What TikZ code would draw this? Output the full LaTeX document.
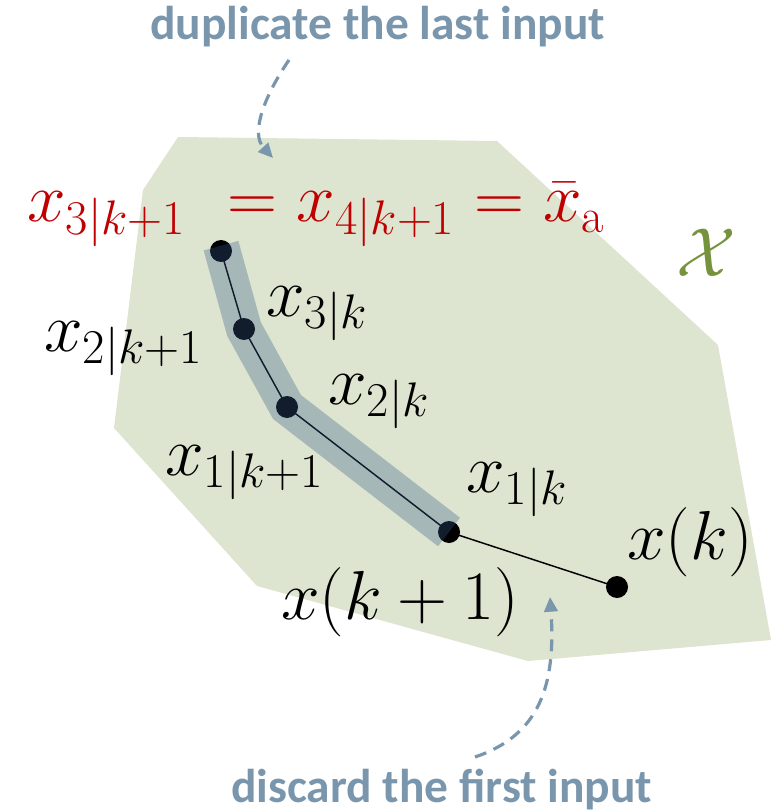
\RequirePackage{fix-cm}
\documentclass[tikz,border=0pt]{standalone}
\usepackage{amsmath, amssymb}
\usepackage{fontspec}
\newfontfamily\notefont{Carlito}
\usetikzlibrary{arrows.meta}

\definecolor{setgreen}{RGB}{221,228,207}
\definecolor{chigreen}{RGB}{118,146,60}
\definecolor{eqred}{RGB}{192,0,0}
\definecolor{noteblue}{RGB}{122,150,173}
\definecolor{bandblue}{RGB}{53,91,137}

\begin{document}
\begin{tikzpicture}[x=0.75pt, y=-0.75pt,
    waypoint/.style={circle, fill=black, inner sep=0pt, minimum size=16.5pt},
    lbl/.style={font=\fontsize{52}{62}\selectfont, inner sep=0pt, anchor=base west},
    note/.style={font=\notefont\bfseries\fontsize{35.6}{42}\selectfont, text=noteblue, inner sep=0pt, anchor=base west},
    hint/.style={draw=noteblue, line width=2.4pt, dash pattern=on 9pt off 6pt,
                 -{Triangle[length=11pt, width=10pt]}}]
    \useasboundingbox (0,0) rectangle (774,812);

    % Constraint set
    \fill[setgreen] (178,137) -- (497,141) -- (718,345) -- (771,640) -- (528,661)
        -- (257,586) -- (114,428) -- (143,190) -- cycle;
    \node[text=chigreen, font=\fontsize{52}{62}\selectfont, inner sep=0pt] (chi) at (706,253) {$\mathcal{X}$};

    % Draw nodes
    \node[waypoint] (p1) at (221,251) {};
    \node[waypoint] (p2) at (244,329) {};
    \node[waypoint] (p3) at (287,407) {};
    \node[waypoint] (p4) at (449,532) {};
    \node[waypoint] (p5) at (617,587) {};

    % Draw connections
    \draw[line width=1.1pt] (p1.center) -- (p2.center) -- (p3.center) -- (p4.center) -- (p5.center);

    % Shifted input sequence
    \draw[bandblue, opacity=0.32, line width=27pt, line join=miter, line cap=butt]
        ([yshift=4pt]p1.center) -- (p2.center) -- (p3.center) -- (p4.center);

    % Labels
    \node[lbl, text=eqred] (x3k1) at (27,222) {$x_{3|k+1}$};
    \node[lbl, text=eqred] (x4k1) at (227,222) {$=x_{4|k+1}=\bar{x}_{\mathrm{a}}$};
    \node[lbl] (x2k1) at (44,351) {$x_{2|k+1}$};
    \node[lbl] (x3k) at (266,316) {$x_{3|k}$};
    \node[lbl] (x2k) at (328,404) {$x_{2|k}$};
    \node[lbl] (x1k1) at (165,475) {$x_{1|k+1}$};
    \node[lbl] (x1k) at (466,492) {$x_{1|k}$};
    \node[lbl] (xk) at (627,559) {$x(k)$};
    \node[lbl] (xk1) at (281,619) {$x(k+1)$};

    % Notes
    \node[note] (dup) at (150,40) {duplicate the last input};
    \node[note] (dis) at (231,802) {discard the first input};
    \coordinate (dupstart) at (289,60);
    \coordinate (dupend) at (273,158);
    \coordinate (disstart) at (475,757);
    \coordinate (disend) at (550,597);
    \draw[hint] (dupstart) .. controls (265,95) and (250,133) .. (dupend);
    \draw[hint] (disstart) .. controls (540,735) and (556,685) .. (disend);
\end{tikzpicture}
\end{document}
